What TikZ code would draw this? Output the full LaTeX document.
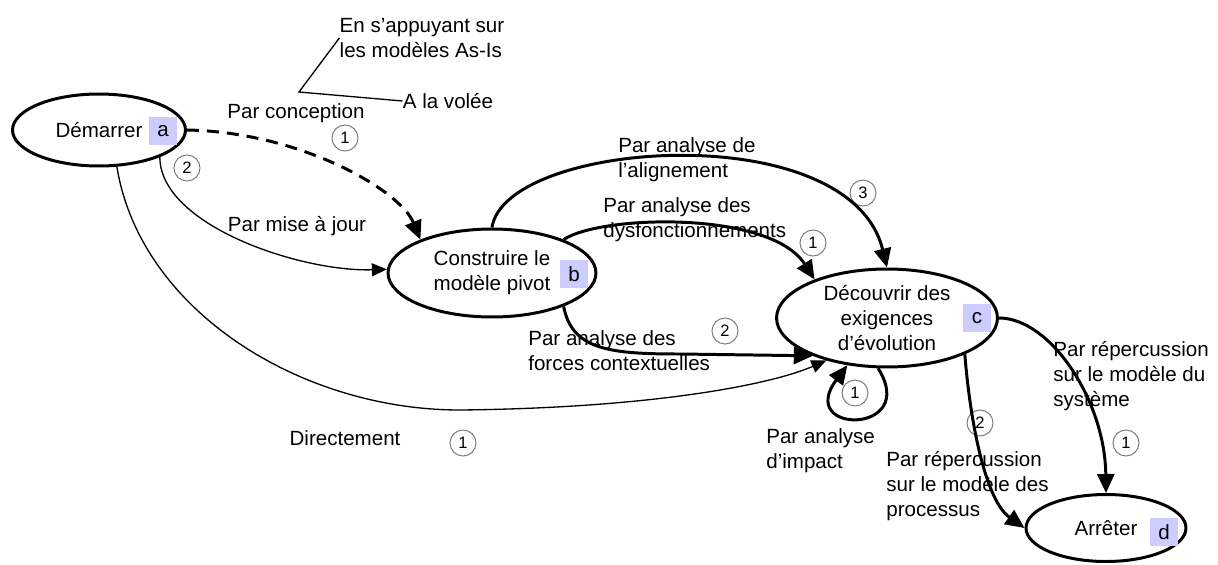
\documentclass[tikz,border=0pt]{standalone}
\usepackage{fontspec}
\setmainfont{Liberation Sans}
\usepackage{tikz}
\usetikzlibrary{arrows.meta,shapes.geometric}
\definecolor{tagblue}{RGB}{204, 204, 255}
\definecolor{numgray}{RGB}{128, 128, 128}
\tikzset{
 phase/.style={
 ellipse,
 draw=black,
 line width=1.7pt,
 inner sep=0pt,
 align=center,
 font=\fontsize{11.7}{14.2}\selectfont
 },
 tagbox/.style={
 rectangle,
 fill=tagblue,
 minimum size=5.6mm,
 inner sep=0pt,
 font=\fontsize{11.7}{14.2}\selectfont
 },
 stepnum/.style={
 circle,
 draw=numgray,
 line width=0.6pt,
 minimum size=5.2mm,
 inner sep=0pt,
 font=\fontsize{9.4}{11}\selectfont
 },
 note/.style={
 align=left,
 inner sep=0pt,
 font=\fontsize{11.7}{14.2}\selectfont
 },
 strongarrow/.style={-{Triangle[length=3.8mm, width=3.4mm]}, line width=1.7pt},
 thinarrow/.style={-{Triangle[length=3mm, width=2.6mm]}, line width=0.75pt},
 dasharrow/.style={strongarrow, dash pattern=on 2.4mm off 1.6mm}
}

\begin{document}
\begin{tikzpicture}[x=0.02cm, y=-0.02cm]
 \useasboundingbox (0,0) rectangle (1218,565);
 \node[phase, minimum width=3.46cm, minimum height=1.44cm] (start) at (99,130) {Démarrer};
 \node[tagbox] (taga) at (163,131) {a};
 \node[phase, minimum width=4.16cm, minimum height=1.76cm] (pivot) at (492,273) {Construire le\\modèle pivot};
 \node[tagbox] (tagb) at (574,274) {b};
 \node[phase, minimum width=4.42cm, minimum height=1.96cm] (discover) at (887,318) {Découvrir des\\exigences\\d’évolution};
 \node[tagbox] (tagc) at (977,318) {c};
 \node[phase, minimum width=3.2cm, minimum height=1.34cm] (stop) at (1106,528) {Arrêter};
 \node[tagbox] (tagd) at (1164,532) {d};

 \node[note] (asis) at (422,38) {En s’appuyant sur\\les modèles As-Is};
 \node[note] (volee) at (448,101) {A la volée};
 \coordinate (fork) at (299,92);
 \draw[line width=0.75pt] (asis.west) -- (fork) -- (volee.west);

 \node[note] (lconc) at (296,113) {Par conception};
 \node[stepnum] (nconc) at (345,138) {1};
 \node[stepnum] (nmaj) at (187,168) {2};
 \node[note] (lmaj) at (297,226) {Par mise à jour};
 \node[note, anchor=west] (lalign) at (618,160) {Par analyse de\\l’alignement};
 \node[stepnum] (nalign) at (863,193) {3};
 \node[note, anchor=west] (ldysf) at (603,220) {Par analyse des\\dysfonctionnements};
 \node[stepnum] (ndysf) at (813,243) {1};
 \node[note, anchor=west] (lforces) at (528,351) {Par analyse des\\forces contextuelles};
 \node[stepnum] (nforces) at (725,331) {2};
 \node[stepnum] (nimpact) at (855,393) {1};
 \node[note, anchor=west] (limpact) at (766,451) {Par analyse\\d’impact};
 \node[note] (ldirect) at (345,438) {Directement};
 \node[stepnum] (ndirect) at (463,443) {1};
 \node[note, anchor=west] (lsys) at (1053,376) {Par répercussion\\sur le modèle du\\système};
 \node[stepnum] (nsys) at (1126,443) {1};
 \node[note, anchor=west] (lproc) at (886,486) {Par répercussion\\sur le modèle des\\processus};
 \node[stepnum] (nproc) at (980,423) {2};

 \draw[dasharrow] (start.east) .. controls (300,132) and (400,190) .. (pivot.155);
 \draw[thinarrow] (start.-24) .. controls (160,225) and (300,272) .. (pivot.178);
 \draw[thinarrow] (start.-64) .. controls (140,310) and (300,410) .. (460,410) .. controls (650,408) and (770,385) .. (discover.-145);
 \draw[strongarrow] (pivot.north) .. controls (505,140) and (850,115) .. (discover.north);
 \draw[strongarrow] (pivot.25) .. controls (600,215) and (770,210) .. (discover.152);
 \draw[strongarrow] (pivot.-25) .. controls (572,350) and (610,354) .. (680,354) -- (discover.-153);
 \draw[strongarrow] (discover.-100) .. controls (920,435) and (795,435) .. (discover.-130);
 \draw[strongarrow] (discover.east) .. controls (1050,318) and (1105,400) .. (stop.north);
 \draw[strongarrow] (discover.-25) .. controls (970,420) and (985,500) .. (stop.west);
\end{tikzpicture}
\end{document}
